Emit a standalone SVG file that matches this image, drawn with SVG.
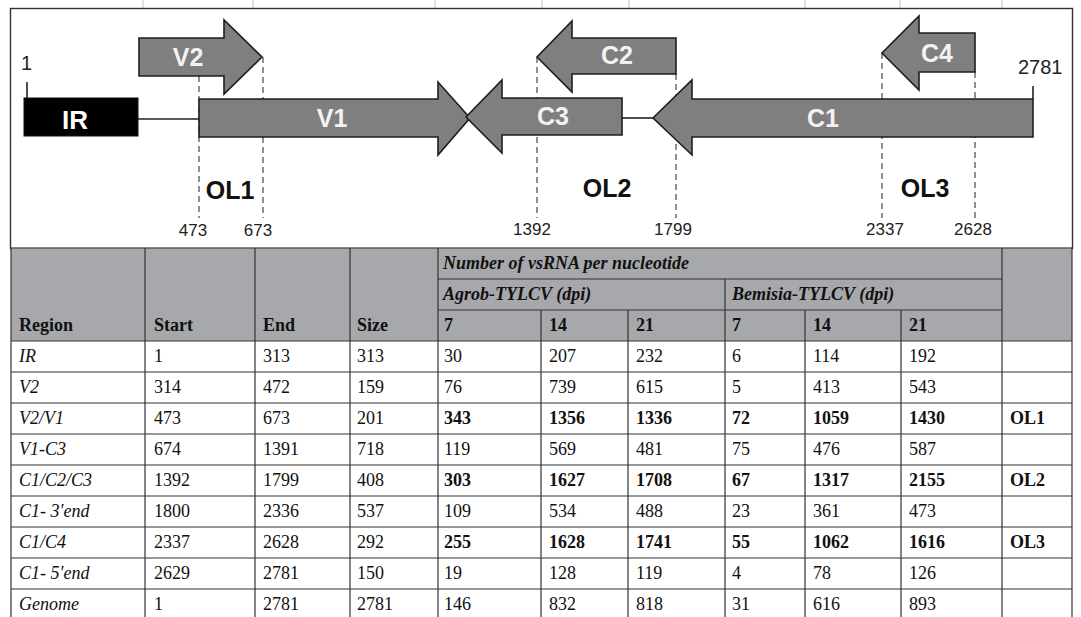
<svg xmlns="http://www.w3.org/2000/svg" width="1081" height="617" viewBox="0 0 1081 617">
<style>
.arrow{fill:#7f7f7f;stroke:#1e1e1e;stroke-width:1.6;stroke-linejoin:miter}
.glab{font-family:"Liberation Sans",Arial,sans-serif;font-weight:bold;font-size:25px;fill:#f2f2f2;text-anchor:middle}
.ol{font-family:"Liberation Sans",Arial,sans-serif;font-weight:bold;font-size:25px;fill:#111;text-anchor:middle}
.pos{font-family:"Liberation Sans",Arial,sans-serif;font-size:17px;fill:#222;text-anchor:middle}
.end{font-family:"Liberation Sans",Arial,sans-serif;font-size:20px;fill:#222}
.dash{stroke:#555;stroke-width:1.3;stroke-dasharray:6 4;fill:none}
.solid{stroke:#222;stroke-width:1.6;fill:none}
.t{font-family:"Liberation Serif","Times New Roman",serif;font-size:18px;fill:#111}
.b{font-weight:bold}
.i{font-style:italic}
.hdr{fill:#a7a8ab}
.grid{stroke:#333;stroke-width:1.2;fill:none}
.tick{stroke:#c4c4c4;stroke-width:1}
</style>

<g id="top-ticks">
<line class="tick" x1="143" y1="0" x2="143" y2="8"/>
<line class="tick" x1="253" y1="0" x2="253" y2="8"/>
<line class="tick" x1="435" y1="0" x2="435" y2="8"/>
<line class="tick" x1="542" y1="0" x2="542" y2="8"/>
<line class="tick" x1="629" y1="0" x2="629" y2="8"/>
<line class="tick" x1="805" y1="0" x2="805" y2="8"/>
<line class="tick" x1="900" y1="0" x2="900" y2="8"/>
<line class="tick" x1="1002" y1="0" x2="1002" y2="8"/>
</g>

<rect id="frame" x="10.5" y="8.5" width="1062" height="240" fill="#fff" stroke="#333" stroke-width="1.4"/>

<g id="connectors">
<line class="solid" x1="138" y1="119" x2="199" y2="119"/>
<line class="solid" x1="622" y1="118" x2="653" y2="118"/>
<line class="solid" x1="27" y1="82" x2="27" y2="98"/>
<line class="solid" x1="1033" y1="86" x2="1033" y2="99"/>
<line class="dash" x1="199" y1="76" x2="199" y2="218"/>
<line class="dash" x1="263" y1="57" x2="263" y2="218"/>
<line class="dash" x1="537" y1="57" x2="537" y2="218"/>
<line class="dash" x1="676" y1="74" x2="676" y2="218"/>
<line class="dash" x1="882" y1="53" x2="882" y2="218"/>
<line class="dash" x1="975" y1="72" x2="975" y2="218"/>
</g>

<g id="IR">
<rect x="24" y="98" width="114" height="38" fill="#000" stroke="#111" stroke-width="1"/>
<text class="glab" x="75" y="129" style="font-size:26px;fill:#fff">IR</text>
</g>
<g id="V2">
<polygon class="arrow" points="139,38 224,38 224,20 262,57 224,94 224,76 139,76"/>
<text class="glab" x="188" y="66">V2</text>
</g>
<g id="V1">
<polygon class="arrow" points="199,99 438,99 438,82 470,118 438,155 438,137 199,137"/>
<text class="glab" x="332" y="127">V1</text>
</g>
<g id="C3">
<polygon class="arrow" points="622,98 502,98 502,80 466,117 502,153 502,135 622,135"/>
<text class="glab" x="553" y="125">C3</text>
</g>
<g id="C2">
<polygon class="arrow" points="676,38 572,38 572,21 537,57 572,92 572,74 676,74"/>
<text class="glab" x="617" y="64">C2</text>
</g>
<g id="C1">
<polygon class="arrow" points="1033,99 692,99 692,80 653,118 692,155 692,137 1033,137"/>
<text class="glab" x="823" y="127">C1</text>
</g>
<g id="C4">
<polygon class="arrow" points="975,33 919,33 919,16 882,53 919,90 919,72 975,72"/>
<text class="glab" x="937" y="62">C4</text>
</g>

<g id="labels">
<text class="end" x="21" y="70">1</text>
<text class="end" x="1018" y="74">2781</text>
<text class="ol" x="230" y="199">OL1</text>
<text class="ol" x="607" y="197">OL2</text>
<text class="ol" x="925" y="197">OL3</text>
<text class="pos" x="193" y="236">473</text>
<text class="pos" x="258" y="236">673</text>
<text class="pos" x="532" y="235">1392</text>
<text class="pos" x="673" y="235">1799</text>
<text class="pos" x="885" y="235">2337</text>
<text class="pos" x="973" y="235">2628</text>
</g>

<g id="table-header">
<rect class="hdr" x="11" y="248" width="1061" height="93"/>
<g class="grid">
<line x1="11" y1="248" x2="1072" y2="248"/>
<line x1="438" y1="279" x2="1002" y2="279"/>
<line x1="438" y1="310" x2="1002" y2="310"/>
<line x1="725" y1="279" x2="725" y2="341"/>
<line x1="541" y1="310" x2="541" y2="341"/>
<line x1="628" y1="310" x2="628" y2="341"/>
<line x1="805" y1="310" x2="805" y2="341"/>
<line x1="901" y1="310" x2="901" y2="341"/>
</g>
<text class="t b i" x="443" y="269">Number of vsRNA per nucleotide</text>
<text class="t b i" x="443" y="300">Agrob-TYLCV (dpi)</text>
<text class="t b i" x="732" y="300">Bemisia-TYLCV (dpi)</text>
<text class="t b" x="19" y="331">Region</text>
<text class="t b" x="154" y="331">Start</text>
<text class="t b" x="263" y="331">End</text>
<text class="t b" x="357" y="331">Size</text>
<text class="t b" x="444" y="331">7</text>
<text class="t b" x="549" y="331">14</text>
<text class="t b" x="636" y="331">21</text>
<text class="t b" x="732" y="331">7</text>
<text class="t b" x="813" y="331">14</text>
<text class="t b" x="909" y="331">21</text>
</g>

<g id="table-grid" class="grid">
<line x1="11" y1="248" x2="11" y2="617"/>
<line x1="145" y1="248" x2="145" y2="617"/>
<line x1="255" y1="248" x2="255" y2="617"/>
<line x1="350" y1="248" x2="350" y2="617"/>
<line x1="438" y1="248" x2="438" y2="617"/>
<line x1="541" y1="341" x2="541" y2="617"/>
<line x1="628" y1="341" x2="628" y2="617"/>
<line x1="725" y1="341" x2="725" y2="617"/>
<line x1="805" y1="341" x2="805" y2="617"/>
<line x1="901" y1="341" x2="901" y2="617"/>
<line x1="1002" y1="248" x2="1002" y2="617"/>
<line x1="1072" y1="248" x2="1072" y2="617"/>
<line x1="11" y1="341" x2="1072" y2="341"/>
<line x1="11" y1="372" x2="1072" y2="372"/>
<line x1="11" y1="403" x2="1072" y2="403"/>
<line x1="11" y1="434" x2="1072" y2="434"/>
<line x1="11" y1="465" x2="1072" y2="465"/>
<line x1="11" y1="496" x2="1072" y2="496"/>
<line x1="11" y1="527" x2="1072" y2="527"/>
<line x1="11" y1="558" x2="1072" y2="558"/>
<line x1="11" y1="589" x2="1072" y2="589"/>
</g>

<g id="row-IR">
<text class="t i" x="19" y="362">IR</text>
<text class="t" x="154" y="362">1</text><text class="t" x="263" y="362">313</text><text class="t" x="357" y="362">313</text>
<text class="t" x="444" y="362">30</text><text class="t" x="549" y="362">207</text><text class="t" x="636" y="362">232</text>
<text class="t" x="732" y="362">6</text><text class="t" x="813" y="362">114</text><text class="t" x="909" y="362">192</text>
</g>
<g id="row-V2">
<text class="t i" x="19" y="393">V2</text>
<text class="t" x="154" y="393">314</text><text class="t" x="263" y="393">472</text><text class="t" x="357" y="393">159</text>
<text class="t" x="444" y="393">76</text><text class="t" x="549" y="393">739</text><text class="t" x="636" y="393">615</text>
<text class="t" x="732" y="393">5</text><text class="t" x="813" y="393">413</text><text class="t" x="909" y="393">543</text>
</g>
<g id="row-V2V1">
<text class="t i" x="19" y="424">V2/V1</text>
<text class="t" x="154" y="424">473</text><text class="t" x="263" y="424">673</text><text class="t" x="357" y="424">201</text>
<text class="t b" x="444" y="424">343</text><text class="t b" x="549" y="424">1356</text><text class="t b" x="636" y="424">1336</text>
<text class="t b" x="732" y="424">72</text><text class="t b" x="813" y="424">1059</text><text class="t b" x="909" y="424">1430</text>
<text class="t b" x="1010" y="424">OL1</text>
</g>
<g id="row-V1C3">
<text class="t i" x="19" y="455">V1-C3</text>
<text class="t" x="154" y="455">674</text><text class="t" x="263" y="455">1391</text><text class="t" x="357" y="455">718</text>
<text class="t" x="444" y="455">119</text><text class="t" x="549" y="455">569</text><text class="t" x="636" y="455">481</text>
<text class="t" x="732" y="455">75</text><text class="t" x="813" y="455">476</text><text class="t" x="909" y="455">587</text>
</g>
<g id="row-C1C2C3">
<text class="t i" x="19" y="486">C1/C2/C3</text>
<text class="t" x="154" y="486">1392</text><text class="t" x="263" y="486">1799</text><text class="t" x="357" y="486">408</text>
<text class="t b" x="444" y="486">303</text><text class="t b" x="549" y="486">1627</text><text class="t b" x="636" y="486">1708</text>
<text class="t b" x="732" y="486">67</text><text class="t b" x="813" y="486">1317</text><text class="t b" x="909" y="486">2155</text>
<text class="t b" x="1010" y="486">OL2</text>
</g>
<g id="row-C1-3end">
<text class="t i" x="19" y="517">C1- 3′end</text>
<text class="t" x="154" y="517">1800</text><text class="t" x="263" y="517">2336</text><text class="t" x="357" y="517">537</text>
<text class="t" x="444" y="517">109</text><text class="t" x="549" y="517">534</text><text class="t" x="636" y="517">488</text>
<text class="t" x="732" y="517">23</text><text class="t" x="813" y="517">361</text><text class="t" x="909" y="517">473</text>
</g>
<g id="row-C1C4">
<text class="t i" x="19" y="548">C1/C4</text>
<text class="t" x="154" y="548">2337</text><text class="t" x="263" y="548">2628</text><text class="t" x="357" y="548">292</text>
<text class="t b" x="444" y="548">255</text><text class="t b" x="549" y="548">1628</text><text class="t b" x="636" y="548">1741</text>
<text class="t b" x="732" y="548">55</text><text class="t b" x="813" y="548">1062</text><text class="t b" x="909" y="548">1616</text>
<text class="t b" x="1010" y="548">OL3</text>
</g>
<g id="row-C1-5end">
<text class="t i" x="19" y="579">C1- 5′end</text>
<text class="t" x="154" y="579">2629</text><text class="t" x="263" y="579">2781</text><text class="t" x="357" y="579">150</text>
<text class="t" x="444" y="579">19</text><text class="t" x="549" y="579">128</text><text class="t" x="636" y="579">119</text>
<text class="t" x="732" y="579">4</text><text class="t" x="813" y="579">78</text><text class="t" x="909" y="579">126</text>
</g>
<g id="row-Genome">
<text class="t i" x="19" y="610">Genome</text>
<text class="t" x="154" y="610">1</text><text class="t" x="263" y="610">2781</text><text class="t" x="357" y="610">2781</text>
<text class="t" x="444" y="610">146</text><text class="t" x="549" y="610">832</text><text class="t" x="636" y="610">818</text>
<text class="t" x="732" y="610">31</text><text class="t" x="813" y="610">616</text><text class="t" x="909" y="610">893</text>
</g>
</svg>
